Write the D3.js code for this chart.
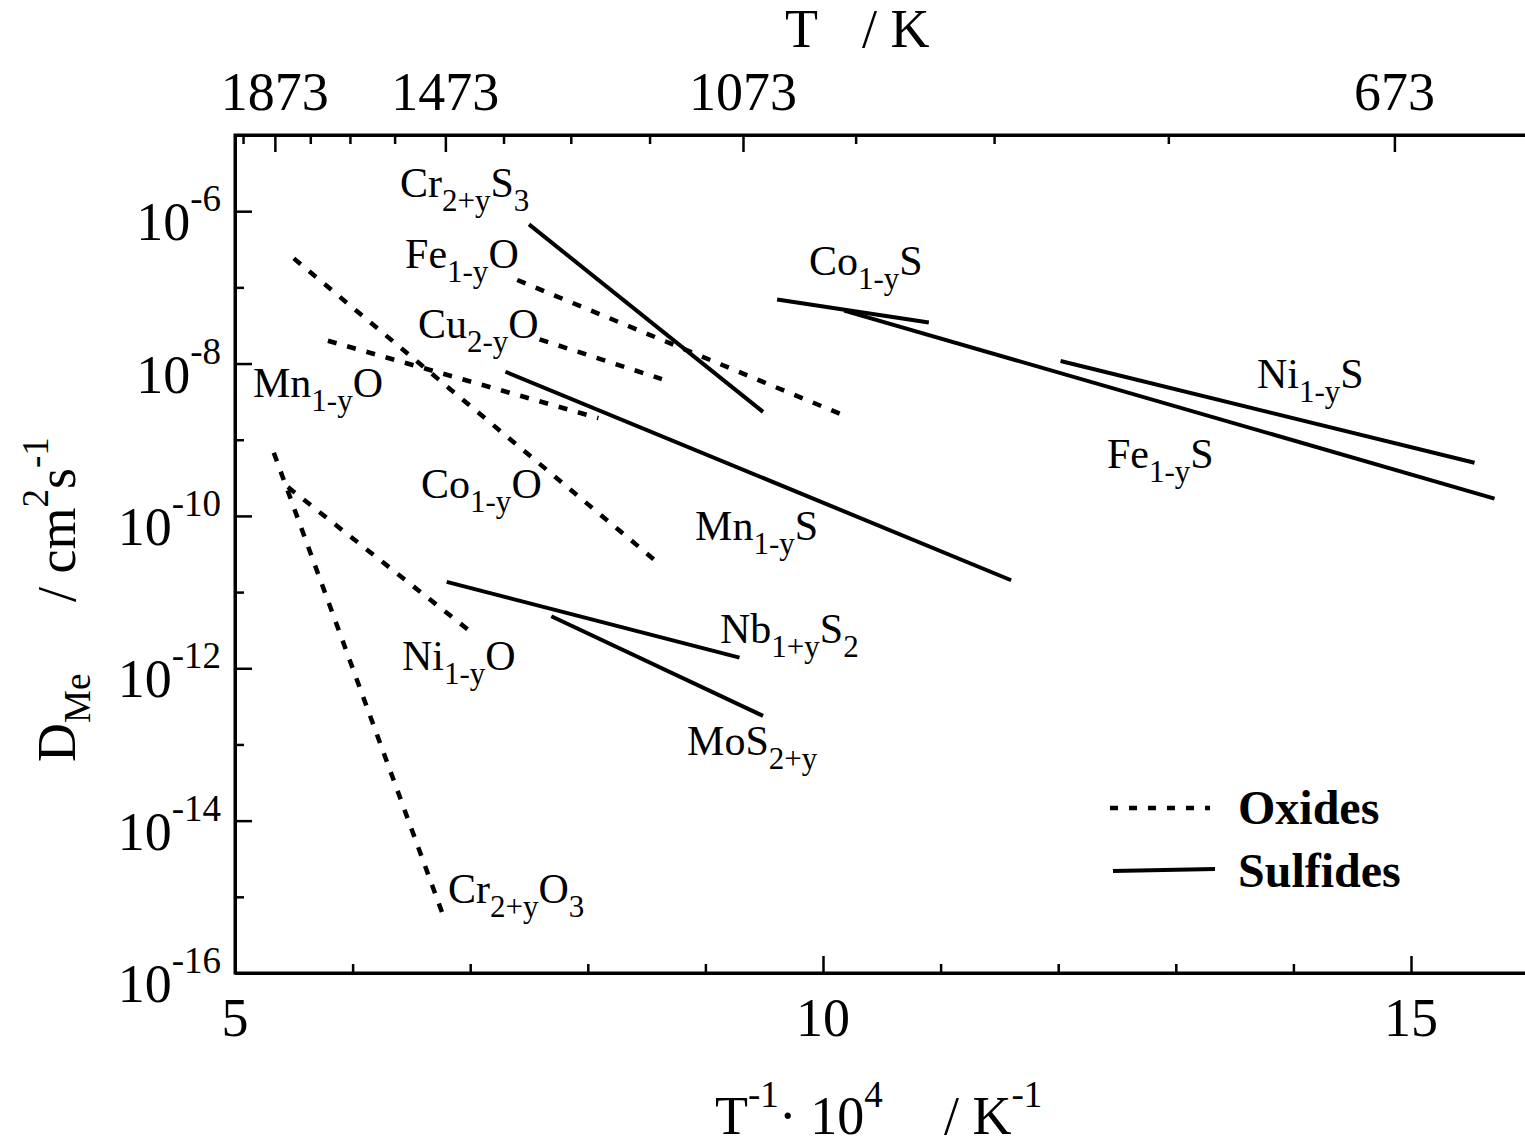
<!DOCTYPE html>
<html>
<head>
<meta charset="utf-8">
<script src="https://cdn.jsdelivr.net/npm/d3@7"></script>
<style>
  html, body { margin: 0; padding: 0; background: #fff; }
  svg { display: block; }
  text { font-family: "Liberation Serif", "Times New Roman", serif; fill: #000; }
</style>
</head>
<body>
<svg id="chart" width="1525" height="1145"></svg>
<script>
// ---------------- data ----------------
// each series: straight segment between two points (1e4/T in 1/K, D in cm^2/s)
const oxideNames = ["Fe1-yO", "Cu2-yO", "Mn1-yO", "Co1-yO", "Ni1-yO", "Cr2+yO3"];
const oxideInvT  = [[7.40, 10.22], [7.59, 8.63], [5.79, 8.09], [5.50, 8.60], [5.45, 6.98], [5.33, 6.78]];
const oxideD     = [[1.25e-7, 1.96e-9], [2.08e-8, 6.25e-9], [1.99e-8, 1.92e-9], [2.40e-7, 2.40e-11], [2.39e-10, 3.23e-12], [6.73e-10, 5.18e-16]];

const sulfideNames = ["Cr2+yS3", "Co1-yS", "Fe1-yS", "Ni1-yS", "Mn1-yS", "Nb1+yS2", "MoS2+y"];
const sulfideInvT  = [[7.50, 9.49], [9.61, 10.90], [10.18, 15.71], [12.02, 15.54], [7.30, 11.60], [6.80, 9.29], [7.69, 9.49]];
const sulfideD     = [[6.71e-7, 2.32e-9], [6.92e-8, 3.45e-8], [4.95e-8, 1.69e-10], [1.08e-8, 4.98e-10], [7.80e-9, 1.43e-11], [1.36e-11, 1.38e-12], [4.82e-12, 2.37e-13]];

// label text parts: [text, 0 normal / 1 subscript]
const labelParts = {
  "Fe1-yO":  [["Fe",0],["1-y",1],["O",0]],
  "Cu2-yO":  [["Cu",0],["2-y",1],["O",0]],
  "Mn1-yO":  [["Mn",0],["1-y",1],["O",0]],
  "Co1-yO":  [["Co",0],["1-y",1],["O",0]],
  "Ni1-yO":  [["Ni",0],["1-y",1],["O",0]],
  "Cr2+yO3": [["Cr",0],["2+y",1],["O",0],["3",1]],
  "Cr2+yS3": [["Cr",0],["2+y",1],["S",0],["3",1]],
  "Co1-yS":  [["Co",0],["1-y",1],["S",0]],
  "Fe1-yS":  [["Fe",0],["1-y",1],["S",0]],
  "Ni1-yS":  [["Ni",0],["1-y",1],["S",0]],
  "Mn1-yS":  [["Mn",0],["1-y",1],["S",0]],
  "Nb1+yS2": [["Nb",0],["1+y",1],["S",0],["2",1]],
  "MoS2+y":  [["MoS",0],["2+y",1]]
};
// label anchor (start of baseline) in data coordinates
const labelNames = ["Cr2+yS3","Fe1-yO","Cu2-yO","Mn1-yO","Co1-yO","Ni1-yO","Cr2+yO3","Co1-yS","Ni1-yS","Fe1-yS","Mn1-yS","Nb1+yS2","MoS2+y"];
const labelInvT  = [6.403, 6.446, 6.556, 5.153, 6.582, 6.420, 6.811, 9.881, 13.690, 12.415, 8.912, 9.124, 8.844];
const labelD     = [1.53e-6, 1.79e-7, 2.16e-8, 3.62e-9, 1.71e-10, 9.42e-13, 8.22e-16, 1.45e-7, 4.76e-9, 4.24e-10, 4.81e-11, 2.13e-12, 7.21e-14];

const xMajorTicks = [5, 10, 15];
const xMinorTicks = [6, 7, 8, 9, 11, 12, 13, 14];
const yMajorExps  = [-6, -8, -10, -12, -14, -16];
const yMinorExps  = [-5, -7, -9, -11, -13, -15];
const topMajorT   = [1873, 1473, 1073, 673];
const topMinorT   = [1973, 1773, 1673, 1573, 1373, 1273, 1173, 973, 873, 773];

const legendNames = ["Oxides", "Sulfides"];

// ---------------- layout ----------------
const L = 235, R = 1528.6, T = 135, B = 973;
const svg = d3.select("#chart");
const x = d3.scaleLinear().domain([5, 16]).range([L, R]);
const y = d3.scaleLog().domain([1e-16, 1e-5]).range([B, T]);

const tickFont = 54, supFont = 37;

// ---- series lines ----
const line = d3.line().x(d => x(d[0])).y(d => y(d[1]));
function seg(invT, D) { return [[invT[0], D[0]], [invT[1], D[1]]]; }

const g = svg.append("g");
oxideNames.forEach((n, i) => {
  g.append("path").attr("d", line(seg(oxideInvT[i], oxideD[i])))
    .attr("fill", "none").attr("stroke", "#000").attr("stroke-width", 4.5)
    .attr("stroke-dasharray", "9,11");
});
sulfideNames.forEach((n, i) => {
  g.append("path").attr("d", line(seg(sulfideInvT[i], sulfideD[i])))
    .attr("fill", "none").attr("stroke", "#000").attr("stroke-width", 4);
});

// ---- labels ----
labelNames.forEach((n, i) => {
  const t = svg.append("text").attr("x", x(labelInvT[i])).attr("y", y(labelD[i]))
    .attr("font-size", 42);
  let cur = 0;
  labelParts[n].forEach(([s, sub]) => {
    const target = sub ? 14 : 0;
    t.append("tspan").attr("dy", target - cur).attr("font-size", sub ? 31 : 42).text(s);
    cur = target;
  });
});

// ---- axes ----
const axW = 3;
function styleAxis(sel) {
  sel.select(".domain").attr("stroke-width", axW).attr("stroke", "#000");
  sel.selectAll(".tick line").attr("stroke-width", 2.5).attr("stroke", "#000");
  sel.selectAll(".tick text").remove();
}
// bottom
svg.append("g").attr("transform", `translate(0,${B})`)
  .call(d3.axisBottom(x).tickValues(xMajorTicks).tickSize(-17).tickSizeOuter(0).tickFormat(""))
  .call(styleAxis);
svg.append("g").attr("transform", `translate(0,${B})`)
  .call(d3.axisBottom(x).tickValues(xMinorTicks).tickSize(-9).tickSizeOuter(0).tickFormat(""))
  .call(styleAxis);
// top (temperature)
const xT = d3.scaleLinear().domain([5, 16]).range([L, R]);
svg.append("g").attr("transform", `translate(0,${T})`)
  .call(d3.axisTop(xT).tickValues(topMajorT.map(t => 1e4 / t)).tickSize(-17).tickSizeOuter(0).tickFormat(""))
  .call(styleAxis);
svg.append("g").attr("transform", `translate(0,${T})`)
  .call(d3.axisTop(xT).tickValues(topMinorT.map(t => 1e4 / t)).tickSize(-9).tickSizeOuter(0).tickFormat(""))
  .call(styleAxis);
// left
svg.append("g").attr("transform", `translate(${L},0)`)
  .call(d3.axisLeft(y).tickValues(yMajorExps.map(e => Math.pow(10, e))).tickSize(-17).tickSizeOuter(0).tickFormat(""))
  .call(styleAxis);
svg.append("g").attr("transform", `translate(${L},0)`)
  .call(d3.axisLeft(y).tickValues(yMinorExps.map(e => Math.pow(10, e))).tickSize(-9).tickSizeOuter(0).tickFormat(""))
  .call(styleAxis);
// axis frame lines
svg.append("path").attr("d", `M${L},${T} H1525 M${L},${T} V${B} H1525`)
  .attr("fill", "none").attr("stroke", "#000").attr("stroke-width", axW).attr("stroke-linecap", "square");

// tick labels bottom
xMajorTicks.forEach(v => {
  svg.append("text").attr("x", x(v)).attr("y", 1036).attr("text-anchor", "middle")
    .attr("font-size", tickFont).text(v);
});
// top labels
topMajorT.forEach(t => {
  svg.append("text").attr("x", xT(1e4 / t)).attr("y", 110).attr("text-anchor", "middle")
    .attr("font-size", tickFont).text(t);
});
// left labels
yMajorExps.forEach(e => {
  const yy = y(Math.pow(10, e));
  const t = svg.append("text").attr("x", 221).attr("y", yy + 29).attr("text-anchor", "end")
    .attr("font-size", tickFont);
  t.append("tspan").text("10");
  t.append("tspan").attr("dy", -29).attr("font-size", supFont).text(String(e));
});

// ---- axis titles ----
// top
svg.append("text").attr("x", 785).attr("y", 47).attr("font-size", tickFont).text("T");
svg.append("text").attr("x", 862).attr("y", 47).attr("font-size", tickFont).text("/ K");
// bottom
(function () {
  const t = svg.append("text").attr("x", 715).attr("y", 1134).attr("font-size", tickFont);
  t.append("tspan").text("T");
  t.append("tspan").attr("dy", -27).attr("font-size", supFont).text("-1");
  t.append("tspan").attr("dy", 27).text("\u00B7 10");
  t.append("tspan").attr("dy", -27).attr("font-size", supFont).text("4");
  t.append("tspan").attr("x", 944).attr("dy", 27).text("/ K");
  t.append("tspan").attr("dy", -27).attr("font-size", supFont).text("-1");
})();
// left (rotated)
(function () {
  const t = svg.append("text").attr("transform", "rotate(-90)")
    .attr("x", -762).attr("y", 75).attr("font-size", tickFont);
  t.append("tspan").text("D");
  t.append("tspan").attr("dy", 15).attr("font-size", supFont).text("Me");
  t.append("tspan").attr("x", -602).attr("dy", -15).text("/ cm");
  t.append("tspan").attr("dy", -27).attr("font-size", supFont).text("2");
  t.append("tspan").attr("dy", 27).text("s");
  t.append("tspan").attr("dy", -27).attr("font-size", supFont).text("-1");
})();

// ---- legend ----
const lg = svg.append("g");
lg.append("line").attr("x1", 1110).attr("x2", 1210).attr("y1", 808).attr("y2", 808)
  .attr("stroke", "#000").attr("stroke-width", 4.5).attr("stroke-dasharray", "8,11");
lg.append("line").attr("x1", 1113).attr("x2", 1215).attr("y1", 871).attr("y2", 869)
  .attr("stroke", "#000").attr("stroke-width", 4);
lg.append("text").attr("x", 1238).attr("y", 824).attr("font-size", 48).attr("font-weight", "bold").text(legendNames[0]);
lg.append("text").attr("x", 1238).attr("y", 887).attr("font-size", 48).attr("font-weight", "bold").text(legendNames[1]);
</script>
</body>
</html>
